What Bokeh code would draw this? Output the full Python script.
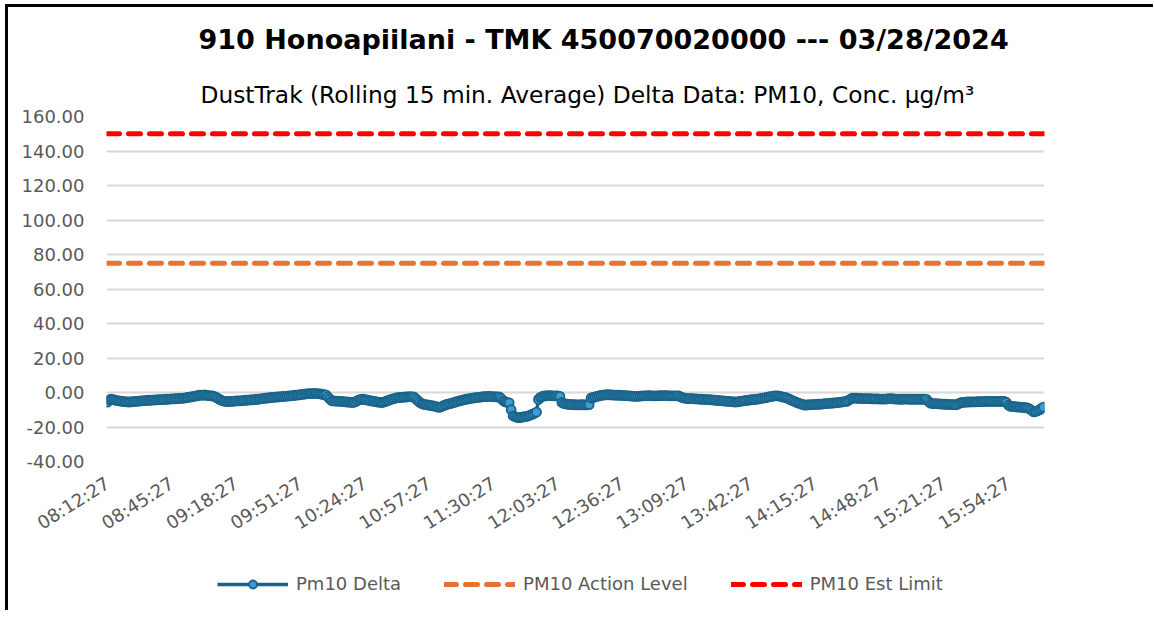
from bokeh.plotting import figure
from bokeh.layouts import column
from bokeh.models import (Range1d, FixedTicker, NumeralTickFormatter, Title,
                          Legend, LegendItem)
from bokeh.embed import file_html
from bokeh.resources import INLINE

# ---------------- data ----------------
title_text = "910 Honoapiilani - TMK 450070020000 --- 03/28/2024"
subtitle_text = "DustTrak (Rolling 15 min. Average) Delta Data: PM10, Conc. µg/m³"

start_time = "08:12:27"   # one reading per minute from here
tick_labels = ["08:12:27", "08:45:27", "09:18:27", "09:51:27", "10:24:27",
               "10:57:27", "11:30:27", "12:03:27", "12:36:27", "13:09:27",
               "13:42:27", "14:15:27", "14:48:27", "15:21:27", "15:54:27"]

pm10_delta = [
    -5.6, -4.3, -3.9, -4.1, -4.4, -4.7, -4.9, -5.0, -5.2, -5.3,
    -5.4, -5.5, -5.4, -5.3, -5.2, -5.1, -5.0, -4.9, -4.8, -4.7,
    -4.6, -4.5, -4.5, -4.4, -4.3, -4.3, -4.2, -4.1, -4.1, -4.0,
    -3.9, -3.9, -3.8, -3.7, -3.7, -3.6, -3.5, -3.4, -3.4, -3.3,
    -3.1, -2.9, -2.7, -2.5, -2.3, -2.1, -1.8, -1.6, -1.5, -1.6,
    -1.4, -1.7, -1.8, -1.9, -2.0, -2.4, -3.0, -3.7, -4.3, -4.8,
    -5.1, -5.2, -5.3, -5.2, -5.1, -5.0, -4.9, -4.9, -4.8, -4.7,
    -4.6, -4.5, -4.4, -4.3, -4.3, -4.2, -4.0, -3.9, -3.8, -3.6,
    -3.5, -3.3, -3.2, -3.1, -2.9, -2.8, -2.7, -2.6, -2.5, -2.4,
    -2.3, -2.2, -2.1, -2.0, -1.9, -1.8, -1.6, -1.5, -1.4, -1.3,
    -1.1, -0.9, -0.8, -0.7, -0.6, -0.6, -0.5, -0.6, -0.7, -0.8,
    -1.0, -1.2, -1.4, -2.6, -3.8, -4.8, -4.9, -5.0, -5.0, -5.1,
    -5.2, -5.3, -5.4, -5.5, -5.6, -5.7, -5.8, -5.4, -4.8, -4.3,
    -4.0, -3.9, -4.1, -4.3, -4.6, -4.8, -5.0, -5.2, -5.4, -5.6,
    -5.7, -5.8, -5.4, -5.0, -4.6, -4.2, -3.8, -3.5, -3.2, -3.0,
    -2.9, -2.8, -2.7, -2.6, -2.5, -2.4, -2.5, -2.5, -3.5, -4.6,
    -5.6, -6.4, -6.7, -7.0, -7.2, -7.4, -7.6, -7.8, -8.0, -8.3,
    -8.6, -8.3, -7.8, -7.3, -6.9, -6.6, -6.4, -6.0, -5.7, -5.3,
    -5.0, -4.7, -4.4, -4.1, -3.9, -3.7, -3.5, -3.3, -3.1, -3.0,
    -2.8, -2.7, -2.5, -2.4, -2.4, -2.3, -2.3, -2.4, -2.4, -2.5,
    -2.5, -2.6, -3.6, -4.8, -5.4, -5.8, -6.0, -10.0, -13.5, -14.0,
    -14.4, -14.6, -14.4, -14.2, -14.0, -13.8, -13.5, -13.0, -12.6, -12.0,
    -11.4, -4.0, -2.8, -2.3, -2.0, -1.9, -1.8, -1.8, -1.9, -1.9,
    -1.9, -2.0, -2.2, -5.8, -6.4, -6.6, -6.8, -6.9, -7.0, -7.1,
    -7.1, -7.2, -7.2, -7.1, -7.1, -7.2, -7.1, -7.0, -3.2, -2.9,
    -2.6, -2.3, -2.0, -1.7, -1.5, -1.4, -1.3, -1.3, -1.4, -1.4,
    -1.5, -1.5, -1.6, -1.6, -1.7, -1.8, -1.8, -1.9, -2.0, -2.1,
    -2.2, -2.3, -2.2, -2.1, -2.0, -1.9, -1.9, -1.8, -1.8, -1.9,
    -1.9, -1.9, -1.9, -1.8, -1.8, -1.8, -1.8, -1.8, -1.9, -1.9,
    -1.9, -1.9, -1.9, -2.0, -2.6, -3.0, -3.3, -3.5, -3.5, -3.6,
    -3.6, -3.7, -3.7, -3.8, -3.9, -3.9, -4.0, -4.1, -4.1, -4.2,
    -4.3, -4.4, -4.5, -4.6, -4.7, -4.8, -4.9, -5.0, -5.1, -5.2,
    -5.3, -5.4, -5.5, -5.4, -5.2, -5.0, -4.8, -4.7, -4.5, -4.4,
    -4.2, -4.1, -4.0, -3.9, -3.7, -3.5, -3.3, -3.1, -2.9, -2.6,
    -2.4, -2.2, -2.0, -1.9, -2.0, -2.2, -2.5, -2.8, -3.0, -3.5,
    -4.0, -4.6, -5.1, -5.5, -6.0, -6.4, -6.8, -7.1, -7.3, -7.2,
    -7.1, -7.0, -7.0, -6.9, -6.8, -6.8, -6.7, -6.6, -6.5, -6.4,
    -6.3, -6.2, -6.1, -6.0, -5.9, -5.7, -5.6, -5.4, -5.3, -5.2,
    -4.6, -3.8, -3.3, -3.3, -3.3, -3.4, -3.4, -3.5, -3.5, -3.6,
    -3.6, -3.6, -3.7, -3.7, -3.7, -3.7, -3.8, -3.8, -3.8, -3.8,
    -3.7, -3.6, -3.6, -3.7, -3.8, -3.8, -3.9, -3.9, -3.9, -3.8,
    -3.8, -3.9, -3.9, -3.9, -3.9, -3.9, -3.9, -3.9, -3.9, -3.9,
    -4.0, -5.2, -6.2, -6.4, -6.5, -6.5, -6.6, -6.6, -6.7, -6.8,
    -6.8, -6.9, -6.9, -7.0, -7.0, -7.1, -6.8, -6.2, -5.8, -5.7,
    -5.6, -5.5, -5.5, -5.4, -5.4, -5.4, -5.3, -5.3, -5.3, -5.3,
    -5.2, -5.2, -5.2, -5.2, -5.2, -5.2, -5.2, -5.2, -5.1, -5.2,
    -5.2, -5.8, -7.4, -8.0, -8.1, -8.2, -8.3, -8.4, -8.5, -8.6,
    -8.7, -8.8, -9.0, -9.6, -10.4, -11.2, -11.0, -10.6, -10.0, -9.2,
    -8.5,
]
action_level_value = 75.0
est_limit_value = 150.0

y_ticks = [-40, -20, 0, 20, 40, 60, 80, 100, 120, 140, 160]

series_names = ["Pm10 Delta", "PM10 Action Level", "PM10 Est Limit"]


def to_minutes(t):
    h, m, s = (int(v) for v in t.split(":"))
    return h * 60 + m + s / 60.0


n = len(pm10_delta)
xs = list(range(n))
t0 = to_minutes(start_time)
tick_pos = [int(round(to_minutes(t) - t0)) for t in tick_labels]
action_level = [action_level_value] * n
est_limit = [est_limit_value] * n

# ---------------- styling ----------------
FONT = "DejaVu Sans"
GREY = "#595959"
LINE_BLUE = "#1B6489"
MARK_FILL = "#3C9DD6"
ORANGE = "#E97132"
RED = "#FF0000"
W = 1145

est_style = dict(line_color=RED, line_width=5, line_dash="12 9", line_cap="round")
act_style = dict(line_color=ORANGE, line_width=5, line_dash="12 9", line_cap="round")
delta_line_style = dict(line_color=LINE_BLUE, line_width=3.5)
delta_pt_style = dict(size=9, fill_color=MARK_FILL, line_color=LINE_BLUE, line_width=1.8)

# ---------------- main chart ----------------
p = figure(width=W, height=538, output_backend="svg", toolbar_location=None,
           x_range=Range1d(-0.5, n - 0.5), y_range=Range1d(-40, 160),
           min_border_left=98, min_border_right=W - 1036,
           min_border_top=109, min_border_bottom=84)
p.title.visible = False
p.outline_line_color = None
p.background_fill_color = "white"
p.border_fill_color = "white"

p.xgrid.grid_line_color = None
p.ygrid.grid_line_color = "#D9D9D9"
p.ygrid.grid_line_width = 2

p.yaxis.ticker = FixedTicker(ticks=y_ticks)
p.yaxis.formatter = NumeralTickFormatter(format="0.00")
p.yaxis.axis_line_color = None
p.yaxis.major_tick_line_color = None
p.yaxis.minor_tick_line_color = None
p.yaxis.major_label_text_font = FONT
p.yaxis.major_label_text_font_size = "18px"
p.yaxis.major_label_text_color = GREY
p.yaxis.major_label_standoff = 16

p.xaxis.ticker = FixedTicker(ticks=tick_pos)
p.xaxis.major_label_overrides = {pos: lab for pos, lab in zip(tick_pos, tick_labels)}
p.xaxis.axis_line_color = None
p.xaxis.major_tick_line_color = None
p.xaxis.minor_tick_line_color = None
p.xaxis.major_label_orientation = 0.56
p.xaxis.major_label_text_font = FONT
p.xaxis.major_label_text_font_size = "18px"
p.xaxis.major_label_text_color = GREY
p.xaxis.major_label_standoff = 14

p.line(xs, est_limit, **est_style)
p.line(xs, action_level, **act_style)
p.line(xs, pm10_delta, **delta_line_style)
p.scatter(xs, pm10_delta, **delta_pt_style)

# titles (first added sits closest to the plot)
p.add_layout(Title(text=subtitle_text, align="left", offset=94,
                   standoff=17.5, text_font=FONT, text_font_size="23.3px",
                   text_font_style="normal", text_color="black"), "above")
p.add_layout(Title(text=title_text, align="left", offset=92,
                   standoff=29, text_font=FONT, text_font_size="27px",
                   text_font_style="bold", text_color="black"), "above")

# ---------------- legend strip ----------------
# the same series are drawn here outside the visible range, only so that the
# legend has real renderers to take its glyph styles from
lg_fig = figure(width=W, height=65, output_backend="svg", toolbar_location=None,
                x_range=Range1d(-20, -10), y_range=Range1d(-40, 160),
                x_axis_type=None, y_axis_type=None,
                min_border_left=0, min_border_right=0,
                min_border_top=0, min_border_bottom=0)
lg_fig.title.visible = False
lg_fig.outline_line_color = None
lg_fig.xgrid.visible = False
lg_fig.ygrid.visible = False
k_line = lg_fig.line(xs, pm10_delta, **delta_line_style)
k_pts = lg_fig.scatter(xs, pm10_delta, **delta_pt_style)
k_act = lg_fig.line(xs, action_level, **act_style)
k_est = lg_fig.line(xs, est_limit, **est_style)

legend = Legend(items=[LegendItem(label=series_names[0], renderers=[k_line, k_pts]),
                       LegendItem(label=series_names[1], renderers=[k_act]),
                       LegendItem(label=series_names[2], renderers=[k_est])],
                location=(111, 16), orientation="horizontal",
                glyph_width=71, glyph_height=20, label_standoff=8,
                padding=0, margin=0, spacing=43,
                label_text_font=FONT, label_text_font_size="18px",
                label_text_color=GREY, background_fill_alpha=0,
                border_line_alpha=0)
lg_fig.add_layout(legend, "center")

page = column(p, lg_fig, spacing=0,
              styles={"margin-left": "5px", "margin-top": "4px",
                      "border-left": "3px solid black", "border-top": "3px solid black"})

open("out.html", "w").write(file_html(page, INLINE))
